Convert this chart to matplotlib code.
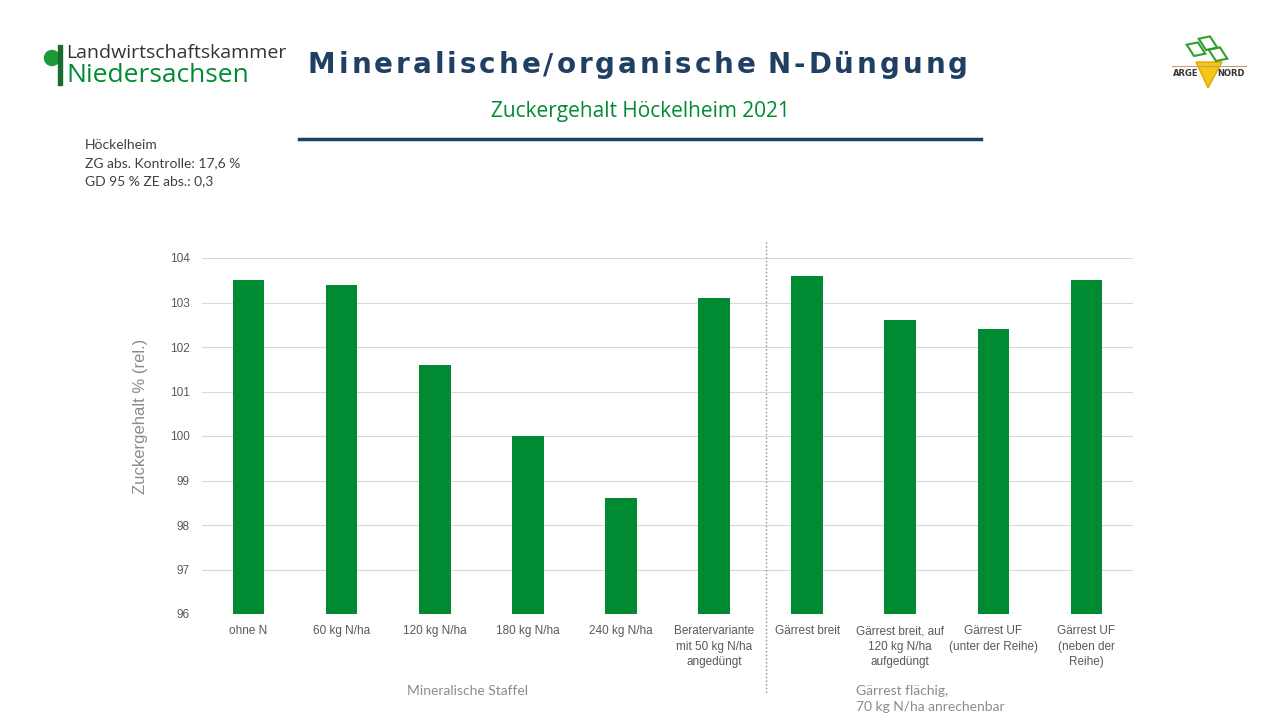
import matplotlib.pyplot as plt
import matplotlib.patches as mpatches
import numpy as np

categories = ["ohne N", "60 kg N/ha", "120 kg N/ha", "180 kg N/ha", "240 kg N/ha",
              "Beratervariante\nmit 50 kg N/ha\nangedüngt", "Gärrest breit",
              "Gärrest breit, auf\n120 kg N/ha\naufgedüngt", "Gärrest UF\n(unter der Reihe)",
              "Gärrest UF\n(neben der\nReihe)"]
zuckergehalt = [103.5, 103.4, 101.6, 100.0, 98.6, 103.1, 103.6, 102.6, 102.4, 103.5]
yticks = [96, 97, 98, 99, 100, 101, 102, 103, 104]

info_lines = ["Höckelheim", "ZG abs. Kontrolle: 17,6 %", "GD 95 % ZE abs.: 0,3"]
title = "Mineralische/organische N-Düngung"

green = "#008a32"
blue = "#1f3f63"

fig = plt.figure(figsize=(12.8, 7.2), dpi=100)

# background gradient
bg = fig.add_axes([0, 0, 1, 1], zorder=-10)
rows = np.linspace(0, 1, 720)
shade = np.where(rows < 0.1, 1.0, 1.0 - (rows - 0.1) / 0.9 * 0.18)
img = np.dstack([shade, shade, shade])[:, :1, :].repeat(2, axis=1)
bg.imshow(img, aspect="auto", extent=[0, 1, 0, 1], origin="upper", vmin=0, vmax=1)
bg.set_xlim(0, 1)
bg.set_ylim(0, 1)
bg.axis("off")

ax = fig.add_axes([202 / 1280, 106 / 720, 931 / 1280, 356 / 720])
ax.set_facecolor("none")
x = np.arange(len(categories))
ax.bar(x, zuckergehalt, width=0.34, color=green, zorder=3)
ax.set_ylim(96, 104)
ax.set_xlim(-0.5, len(categories) - 0.5)
ax.set_yticks(yticks)
ax.set_yticklabels([str(t) for t in yticks], fontsize=8.5, color="#595959",
                   family="Liberation Sans")
ax.set_xticks(x)
ax.set_xticklabels(categories, fontsize=8.5, color="#595959", family="Liberation Sans",
                   linespacing=1.4, va="top")
ax.tick_params(length=0, pad=8)
ax.tick_params(axis="y", pad=9)
ax.grid(axis="y", color="#d9d9d9", linewidth=0.8, zorder=0)
for s in ax.spines.values():
    s.set_visible(False)
fig.text(141 / 1280, 1 - 416 / 720, "Zuckergehalt % (rel.)", rotation=90, ha="center",
         va="center", fontsize=12, color="#8c8c8c", family="Liberation Sans")

# separator between groups
ax.plot([5.56, 5.56], [104.35, 94.2], color="#8c8c8c", linestyle=":", linewidth=1,
        clip_on=False)

ax.text(0.285, -0.215, "Mineralische Staffel", transform=ax.transAxes, ha="center",
        va="center", fontsize=10, color="#8c8c8c", family="Lato")
ax.text(0.703, -0.2, "Gärrest flächig,\n70 kg N/ha anrechenbar", transform=ax.transAxes,
        ha="left", va="top", fontsize=10, color="#8c8c8c", family="Lato",
        linespacing=1.35)

# header title with letter spacing
renderer = fig.canvas.get_renderer()
x0, x1 = 308, 968
pieces = []
total = 0
for ch in title:
    t = fig.text(0, 0, ch, fontsize=20, fontweight="bold", color=blue,
                 family="DejaVu Sans", va="center")
    w = t.get_window_extent(renderer).width if ch != " " else 6
    pieces.append((t, w))
    total += w
gap = (x1 - x0 - total) / (len(title) - 1)
pos = x0
for t, w in pieces:
    t.set_position((pos / 1280, 1 - 65 / 720))
    pos += w + gap

fig.text(0.5, 1 - 111 / 720, "Zuckergehalt Höckelheim 2021", ha="center", va="center",
         fontsize=15, color=green, family="Open Sans")
fig.add_artist(plt.Line2D([299 / 1280, 981 / 1280], [1 - 139 / 720, 1 - 139 / 720],
                          color=blue, linewidth=2.5))

for i, line in enumerate(info_lines):
    fig.text(85 / 1280, 1 - (145 + 18 * i) / 720, line, ha="left", va="center",
             fontsize=10, color="#404040", family="Lato")

# left logo
fig.add_artist(mpatches.Ellipse((52 / 1280, 1 - 58 / 720), 15 / 1280, 15 / 720,
                                color="#1a9a3a", transform=fig.transFigure))
fig.add_artist(mpatches.Rectangle((58 / 1280, 1 - 85 / 720), 4 / 1280, 40 / 720,
                                  color="#1a6b2e", transform=fig.transFigure))
fig.text(66 / 1280, 1 - 53 / 720, "Landwirtschaftskammer", ha="left", va="center",
         fontsize=14, color="#333333", family="Open Sans")
fig.text(66 / 1280, 1 - 75 / 720, "Niedersachsen", ha="left", va="center",
         fontsize=19, color=green, family="Open Sans")

# right logo
fig.add_artist(mpatches.Polygon([(1196 / 1280, 1 - 62 / 720), (1222 / 1280, 1 - 62 / 720),
                                 (1208 / 1280, 1 - 88 / 720)], closed=True,
                                facecolor="#f5c518", edgecolor="#e0a800",
                                transform=fig.transFigure))
for cx, cy in [(1200, 50), (1212, 44), (1222, 55)]:
    fig.add_artist(mpatches.Rectangle(((cx - 6) / 1280, 1 - (cy + 6) / 720), 12 / 1280,
                                      12 / 720, fill=False, edgecolor="#2ea02e",
                                      linewidth=1.5, angle=20, transform=fig.transFigure))
fig.add_artist(plt.Line2D([1172 / 1280, 1246 / 1280], [1 - 66 / 720, 1 - 66 / 720],
                          color="#c8a070", linewidth=0.8))
fig.text(1186 / 1280, 1 - 73 / 720, "ARGE", ha="center", va="center", fontsize=6,
         fontweight="bold", color="#333333")
fig.text(1231 / 1280, 1 - 73 / 720, "NORD", ha="center", va="center", fontsize=6,
         fontweight="bold", color="#333333")

fig.savefig("out.png", dpi=100)
